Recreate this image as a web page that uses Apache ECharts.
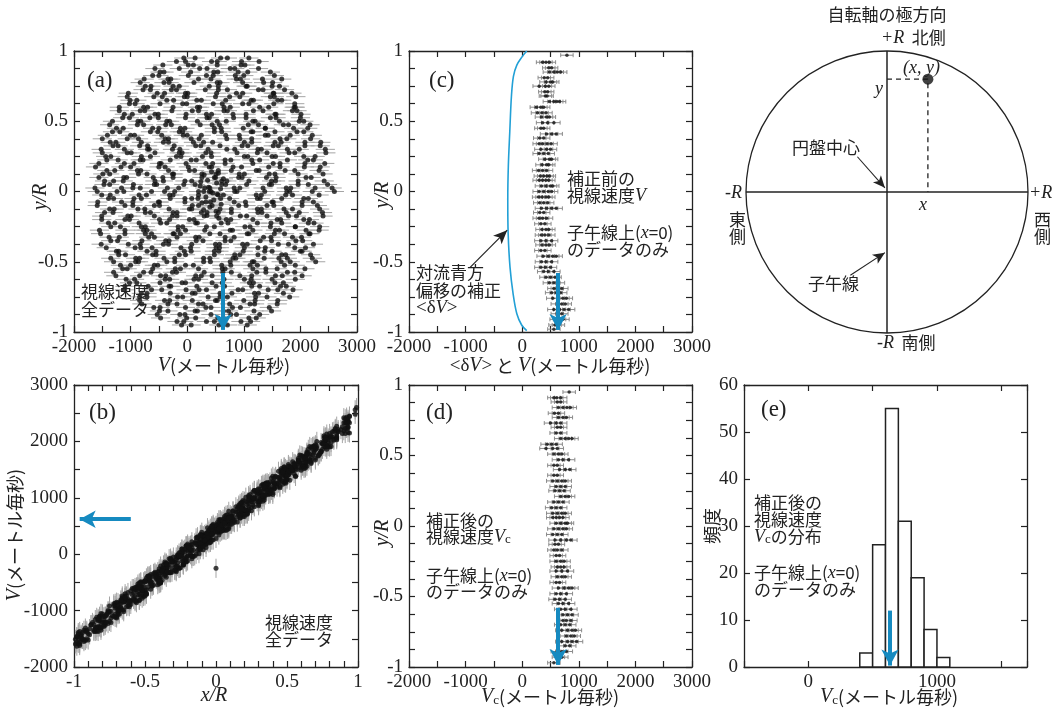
<!DOCTYPE html>
<html><head><meta charset="utf-8">
<script src="https://cdn.jsdelivr.net/npm/echarts@6/dist/echarts.min.js"></script>
<style>html,body{margin:0;padding:0;background:#fff}#c{width:1057px;height:710px}</style>
</head><body><div id="c"></div><script>
// ---------- DATA ----------
// full-disk line-of-sight velocities: rows of constant y/R, x/R positions and V (m/s)
const diskY = [0.95,0.90,0.85,0.80,0.75,0.70,0.65,0.60,0.55,0.50,0.45,0.40,0.35,0.30,0.25,0.20,0.15,0.10,0.05,0.00,
  -0.05,-0.10,-0.15,-0.20,-0.25,-0.30,-0.35,-0.40,-0.45,-0.50,-0.55,-0.60,-0.65,-0.70,-0.75,-0.80,-0.85,-0.90,-0.95];
const diskX = [
 [-0.27,-0.12,0.03,0.18,0.29],
 [-0.40,-0.26,-0.11,0.04,0.19,0.33],
 [-0.49,-0.35,-0.20,-0.06,0.09,0.23,0.38,0.50],
 [-0.57,-0.43,-0.28,-0.14,0.01,0.16,0.30,0.45,0.58],
 [-0.64,-0.50,-0.35,-0.21,-0.06,0.08,0.23,0.37,0.52,0.64],
 [-0.69,-0.55,-0.40,-0.26,-0.12,0.03,0.17,0.31,0.46,0.60,0.70],
 [-0.74,-0.60,-0.46,-0.31,-0.17,-0.02,0.12,0.27,0.41,0.56,0.70],
 [-0.78,-0.64,-0.49,-0.35,-0.20,-0.06,0.09,0.23,0.38,0.52,0.67,0.79],
 [-0.82,-0.68,-0.53,-0.39,-0.24,-0.10,0.05,0.19,0.34,0.48,0.63,0.77],
 [-0.85,-0.71,-0.57,-0.42,-0.28,-0.13,0.01,0.16,0.30,0.45,0.59,0.74,0.85],
 [-0.88,-0.74,-0.59,-0.45,-0.30,-0.16,-0.02,0.13,0.27,0.42,0.56,0.71,0.85],
 [-0.90,-0.76,-0.61,-0.47,-0.32,-0.18,-0.03,0.11,0.26,0.40,0.55,0.69,0.84],
 [-0.92,-0.78,-0.63,-0.49,-0.34,-0.20,-0.05,0.09,0.24,0.38,0.53,0.67,0.82,0.93],
 [-0.93,-0.79,-0.64,-0.50,-0.35,-0.21,-0.06,0.08,0.23,0.37,0.52,0.66,0.81,0.94],
 [-0.95,-0.81,-0.66,-0.52,-0.37,-0.23,-0.08,0.06,0.21,0.35,0.50,0.64,0.79,0.93],
 [-0.96,-0.82,-0.67,-0.53,-0.38,-0.24,-0.09,0.05,0.20,0.34,0.49,0.63,0.78,0.92],
 [-0.97,-0.83,-0.68,-0.54,-0.39,-0.25,-0.10,0.04,0.19,0.33,0.48,0.62,0.77,0.91],
 [-0.98,-0.84,-0.69,-0.55,-0.40,-0.26,-0.11,0.03,0.18,0.32,0.47,0.61,0.76,0.90],
 [-0.98,-0.85,-0.70,-0.56,-0.41,-0.27,-0.12,0.02,0.17,0.31,0.46,0.60,0.75,0.89,0.98],
 [-0.99,-0.86,-0.71,-0.57,-0.42,-0.28,-0.13,0.01,0.16,0.30,0.45,0.59,0.74,0.88,0.99],
 [-0.97,-0.83,-0.69,-0.54,-0.40,-0.25,-0.11,0.04,0.18,0.33,0.47,0.62,0.76,0.91],
 [-0.96,-0.82,-0.67,-0.53,-0.39,-0.24,-0.10,0.05,0.19,0.34,0.48,0.63,0.77,0.92],
 [-0.95,-0.81,-0.66,-0.52,-0.37,-0.23,-0.08,0.06,0.21,0.35,0.50,0.64,0.79,0.93],
 [-0.94,-0.80,-0.65,-0.51,-0.36,-0.22,-0.07,0.07,0.22,0.36,0.51,0.65,0.80,0.93],
 [-0.93,-0.79,-0.64,-0.50,-0.35,-0.21,-0.06,0.08,0.23,0.37,0.52,0.66,0.81,0.93],
 [-0.92,-0.78,-0.63,-0.49,-0.34,-0.20,-0.05,0.09,0.24,0.38,0.53,0.67,0.82,0.94],
 [-0.91,-0.76,-0.62,-0.47,-0.33,-0.18,-0.04,0.11,0.25,0.40,0.54,0.69,0.83],
 [-0.89,-0.75,-0.60,-0.46,-0.31,-0.17,-0.02,0.12,0.27,0.41,0.56,0.70,0.85],
 [-0.87,-0.73,-0.58,-0.44,-0.29,-0.15,0.00,0.14,0.29,0.43,0.58,0.72,0.86],
 [-0.85,-0.71,-0.56,-0.42,-0.27,-0.13,0.02,0.16,0.31,0.45,0.60,0.74,0.85],
 [-0.82,-0.68,-0.53,-0.39,-0.24,-0.10,0.05,0.19,0.34,0.48,0.63,0.77],
 [-0.79,-0.65,-0.50,-0.36,-0.21,-0.07,0.08,0.22,0.37,0.51,0.66,0.79],
 [-0.75,-0.61,-0.46,-0.32,-0.17,-0.03,0.12,0.26,0.41,0.55,0.70],
 [-0.70,-0.56,-0.41,-0.27,-0.12,0.02,0.17,0.31,0.46,0.60,0.70],
 [-0.65,-0.51,-0.36,-0.22,-0.07,0.07,0.22,0.36,0.51,0.64],
 [-0.58,-0.44,-0.29,-0.15,0.00,0.14,0.29,0.43,0.57],
 [-0.50,-0.36,-0.21,-0.07,0.08,0.22,0.37,0.50],
 [-0.41,-0.27,-0.12,0.02,0.17,0.31,0.42],
 [-0.28,-0.13,0.01,0.16,0.29]
];
const diskV = [
 [-60,140,590,710,1090],
 [-430,20,110,530,950,1020],
 [-480,-410,60,470,540,900,1070,1470],
 [-760,-340,-290,200,420,870,940,1330,1670],
 [-740,-640,-250,-140,390,550,1040,1060,1500,1630],
 [-1040,-530,-400,-30,10,520,870,980,1520,1530,1850],
 [-1010,-890,-360,-240,170,250,680,1130,1170,1600,1670],
 [-1200,-770,-700,-250,180,220,650,760,1280,1440,1890,1910],
 [-1110,-970,-570,-510,-20,340,430,810,1040,1550,1570,2010],
 [-1320,-870,-820,-360,-310,180,530,690,1160,1200,1630,1980,2060],
 [-1250,-1130,-610,-500,-120,-40,480,600,990,1380,1380,1880,2130],
 [-1410,-1000,-930,-450,-70,0,250,680,920,1380,1430,1820,2210],
 [-1360,-1260,-810,-420,-330,110,290,450,1010,1140,1550,1660,2080,2360],
 [-1520,-1110,-700,-670,-260,-130,370,700,840,1250,1310,1770,1980,2440],
 [-1440,-1350,-810,-650,-190,-110,270,430,1010,1070,1500,1560,2060,2260],
 [-1560,-1110,-940,-490,-460,-20,330,450,670,1160,1520,1640,2080,2430],
 [-1420,-1280,-880,-820,-330,40,130,550,780,1220,1270,1730,1900,2330],
 [-1560,-1120,-1070,-600,-430,-250,260,500,910,970,1400,1570,2100,2190],
 [-1470,-1370,-950,-580,-540,-60,140,610,680,1050,1450,1490,1960,2140,2480],
 [-1590,-1240,-1120,-630,-400,-220,290,390,840,880,1370,1760,1810,2210,2600],
 [-1390,-1300,-940,-810,-300,-40,80,590,750,1240,1290,1670,2060,2140],
 [-1590,-1100,-960,-580,-490,90,200,440,910,1040,1410,1530,2030,2300],
 [-1460,-1310,-740,-650,-250,-180,350,550,780,1250,1320,1750,1980,2390],
 [-1510,-1100,-1020,-490,-310,40,120,690,770,1160,1590,1650,2060,2160],
 [-1350,-1180,-810,-740,-160,-80,340,480,1020,1110,1470,1910,1910,2340],
 [-1530,-1100,-740,-630,-230,-120,400,580,1060,1090,1540,1720,2170,2150],
 [-1350,-1230,-800,-380,-320,160,280,670,770,1290,1490,1920,2040],
 [-1430,-920,-820,-620,-110,60,510,570,1010,1250,1380,1900,2090],
 [-1210,-1090,-610,-550,-140,-30,480,840,930,1250,1670,1740,2180],
 [-1300,-910,-860,-360,-220,290,410,760,1150,1180,1660,1820,2270],
 [-1140,-1060,-610,-210,-120,200,620,670,1160,1390,1590,2080],
 [-1260,-840,-470,-380,150,250,440,930,1140,1560,1680,2030],
 [-1020,-890,-480,-90,-30,440,620,1100,1170,1550,1700],
 [-1110,-630,-450,-20,210,340,900,980,1430,1600,1870],
 [-840,-710,-170,-80,370,580,710,1210,1410,1810],
 [-800,-340,-180,200,280,750,1110,1190,1590],
 [-490,-340,140,180,640,730,1180,1490],
 [-470,-10,150,540,640,1090,1220],
 [-100,70,560,710,1060]
];
// interleaved scan rows
const diskY2 = [0.925,0.875,0.825,0.775,0.725,0.675,0.625,0.575,0.525,0.475,0.425,0.375,0.325,0.275,0.225,0.175,0.125,0.075,0.025,
  -0.025,-0.075,-0.125,-0.175,-0.225,-0.275,-0.325,-0.375,-0.425,-0.475,-0.525,-0.575,-0.625,-0.675,-0.725,-0.775,-0.825,-0.875,-0.925];
const diskX2 = [
 [-0.34,-0.20,-0.05,0.10,0.25,0.36],
 [-0.45,-0.31,-0.17,-0.02,0.12,0.27,0.41],
 [-0.53,-0.39,-0.24,-0.10,0.05,0.19,0.34,0.48],
 [-0.60,-0.46,-0.31,-0.17,-0.02,0.12,0.27,0.41,0.56],
 [-0.66,-0.52,-0.38,-0.23,-0.09,0.06,0.20,0.35,0.49,0.63],
 [-0.71,-0.57,-0.42,-0.28,-0.14,0.01,0.15,0.30,0.44,0.58,0.71],
 [-0.76,-0.62,-0.47,-0.33,-0.18,-0.04,0.11,0.25,0.40,0.54,0.69],
 [-0.80,-0.66,-0.51,-0.37,-0.22,-0.08,0.07,0.21,0.36,0.50,0.65,0.78],
 [-0.83,-0.69,-0.55,-0.40,-0.26,-0.11,0.03,0.18,0.32,0.47,0.61,0.76],
 [-0.86,-0.72,-0.58,-0.43,-0.29,-0.14,0.00,0.15,0.29,0.44,0.58,0.73,0.86],
 [-0.89,-0.75,-0.60,-0.46,-0.31,-0.17,-0.02,0.12,0.27,0.41,0.56,0.70,0.85],
 [-0.91,-0.77,-0.62,-0.48,-0.33,-0.19,-0.04,0.10,0.25,0.39,0.54,0.68,0.83],
 [-0.92,-0.78,-0.64,-0.49,-0.35,-0.20,-0.06,0.09,0.23,0.38,0.52,0.67,0.81,0.93],
 [-0.94,-0.80,-0.65,-0.51,-0.36,-0.22,-0.07,0.07,0.22,0.36,0.51,0.65,0.80,0.94],
 [-0.95,-0.81,-0.67,-0.52,-0.38,-0.23,-0.09,0.06,0.20,0.35,0.49,0.64,0.78,0.92],
 [-0.96,-0.82,-0.68,-0.53,-0.39,-0.24,-0.10,0.05,0.19,0.34,0.48,0.63,0.77,0.92],
 [-0.97,-0.83,-0.69,-0.54,-0.40,-0.25,-0.11,0.04,0.18,0.33,0.47,0.62,0.76,0.91],
 [-0.98,-0.84,-0.70,-0.55,-0.41,-0.26,-0.12,0.03,0.17,0.32,0.46,0.61,0.75,0.90],
 [-0.98,-0.85,-0.71,-0.56,-0.42,-0.27,-0.13,0.02,0.16,0.31,0.45,0.60,0.74,0.89,0.98],
 [-0.99,-0.84,-0.70,-0.55,-0.41,-0.26,-0.12,0.03,0.17,0.32,0.46,0.61,0.75,0.90],
 [-0.97,-0.83,-0.68,-0.54,-0.39,-0.25,-0.10,0.04,0.19,0.33,0.48,0.62,0.77,0.91],
 [-0.96,-0.82,-0.67,-0.53,-0.38,-0.24,-0.09,0.05,0.20,0.34,0.49,0.63,0.78,0.92],
 [-0.95,-0.81,-0.66,-0.52,-0.38,-0.23,-0.09,0.06,0.20,0.35,0.49,0.64,0.78,0.92],
 [-0.94,-0.79,-0.65,-0.50,-0.36,-0.21,-0.07,0.08,0.22,0.37,0.51,0.66,0.80,0.93],
 [-0.93,-0.78,-0.64,-0.49,-0.35,-0.20,-0.06,0.09,0.23,0.38,0.52,0.67,0.81,0.94],
 [-0.91,-0.77,-0.62,-0.48,-0.33,-0.19,-0.04,0.10,0.25,0.39,0.54,0.68,0.83],
 [-0.90,-0.76,-0.61,-0.47,-0.32,-0.18,-0.03,0.11,0.26,0.40,0.55,0.69,0.84],
 [-0.88,-0.74,-0.59,-0.45,-0.30,-0.16,-0.01,0.13,0.28,0.42,0.57,0.71,0.85],
 [-0.86,-0.72,-0.57,-0.43,-0.28,-0.14,0.01,0.15,0.30,0.44,0.59,0.73,0.86],
 [-0.83,-0.69,-0.55,-0.40,-0.26,-0.11,0.03,0.18,0.32,0.47,0.61,0.76],
 [-0.81,-0.66,-0.52,-0.37,-0.23,-0.08,0.06,0.21,0.35,0.50,0.64,0.78],
 [-0.77,-0.63,-0.48,-0.34,-0.19,-0.05,0.10,0.24,0.39,0.53,0.68],
 [-0.72,-0.58,-0.43,-0.29,-0.14,0.00,0.15,0.29,0.44,0.58,0.72],
 [-0.67,-0.53,-0.38,-0.24,-0.09,0.05,0.20,0.34,0.49,0.63],
 [-0.61,-0.47,-0.32,-0.18,-0.03,0.11,0.26,0.40,0.55],
 [-0.54,-0.40,-0.25,-0.11,0.04,0.18,0.33,0.47],
 [-0.46,-0.32,-0.17,-0.03,0.12,0.26,0.41],
 [-0.35,-0.21,-0.06,0.09,0.23,0.36]
];
const diskV2 = [
 [-190,-30,430,530,960,1270],
 [-570,-140,220,350,760,840,1260],
 [-610,-500,20,340,460,850,1000,1540],
 [-830,-410,-320,120,530,580,980,1350,1510],
 [-780,-650,-280,-190,320,550,710,1260,1340,1720],
 [-1060,-590,-440,-50,0,500,750,930,1470,1540,1920],
 [-1020,-920,-480,-80,-10,460,620,980,1090,1530,1900],
 [-1200,-830,-750,-270,90,200,650,710,1170,1340,1860,1940],
 [-1140,-1020,-660,-510,-30,350,390,820,1040,1470,1570,2000],
 [-1370,-880,-770,-380,-280,230,440,570,1080,1260,1700,1790,2170],
 [-1320,-1190,-650,-520,-140,-80,480,610,1130,1160,1550,1940,2060],
 [-1500,-1060,-860,-390,-330,70,210,700,930,1140,1640,1760,2180],
 [-1310,-1220,-840,-700,-230,150,240,580,970,1070,1520,1610,2080,2350],
 [-1500,-1060,-990,-570,-140,-90,330,420,880,1240,1410,1800,1900,2450],
 [-1420,-1220,-830,-780,-300,70,160,670,770,1140,1280,1770,2130,2230],
 [-1620,-1170,-1000,-500,-390,20,390,430,810,960,1440,1640,2070,2350],
 [-1490,-1370,-860,-710,-260,-240,260,510,920,1010,1450,1550,1960,2400],
 [-1460,-1300,-1130,-570,-420,-40,80,610,700,1090,1490,1560,1960,2420],
 [-1630,-1160,-960,-830,-350,-150,310,400,830,930,1340,1750,1830,2260,2560],
 [-1510,-1360,-850,-720,-310,-250,200,550,640,1220,1310,1740,1860,2330],
 [-1580,-1160,-960,-510,-490,-40,330,410,830,1030,1500,1520,2030,2230],
 [-1370,-1290,-870,-750,-320,40,80,580,780,1240,1310,1710,1860,2340],
 [-1510,-1050,-990,-580,-260,-180,300,520,940,1050,1410,1790,1930,2400],
 [-1390,-1280,-850,-470,-360,150,180,600,720,1240,1480,1670,2140,2240],
 [-1550,-1100,-770,-710,-160,-30,310,760,800,1160,1560,1630,2100,2330],
 [-1380,-1200,-680,-580,-180,150,210,670,830,1350,1480,1860,2020],
 [-1520,-1040,-830,-420,-330,80,500,570,980,1060,1610,1790,2230],
 [-1250,-1210,-710,-550,-50,70,480,560,990,1370,1500,2000,2030],
 [-1350,-910,-840,-410,-220,290,400,810,860,1360,1620,1770,2210],
 [-1180,-1000,-580,-520,-30,110,610,770,1110,1240,1720,1910],
 [-1300,-770,-640,-260,-190,300,630,780,1230,1390,1770,1900],
 [-1080,-930,-390,-310,120,200,650,1010,1130,1500,1910],
 [-1100,-690,-320,-290,170,510,660,1140,1280,1650,1750],
 [-810,-710,-300,90,140,580,790,1190,1260,1700],
 [-840,-400,-310,90,500,530,1000,1200,1600],
 [-590,-480,-30,330,420,800,940,1450],
 [-530,-130,-40,420,770,870,1280],
 [-180,-60,340,480,950,1120]
];
// extra observations near disk centre [x/R, y/R, V]
const centerPoints = [[-0.05,0.12,300],[0.02,0.10,480],[-0.08,0.07,240],[0.04,0.06,520],[-0.02,0.03,380],[0.07,0.02,590],
 [-0.10,0.00,200],[0.00,0.00,420],[0.05,-0.02,530],[-0.04,-0.04,330],[0.03,-0.06,470],[-0.07,-0.08,260],[0.08,-0.09,600],
 [-0.01,-0.11,400],[-0.06,-0.13,290],[0.04,-0.14,510],[-0.03,-0.17,350],[0.06,-0.19,560],[-0.09,0.04,230],[0.01,0.14,430],
 [0.09,0.09,640],[-0.11,-0.05,190],[0.02,-0.01,450],[-0.03,0.08,360],[0.06,0.13,550],[-0.08,-0.15,250],[0.00,-0.30,-250]];
// meridian (x=0) data, before correction: [y/R, V values]
const meridianRows = [
 [0.97,[790]],[0.92,[360,420,480]],[0.88,[470,520]],[0.85,[480,560,620,680]],[0.81,[390,450]],[0.78,[420,500,540]],
 [0.75,[300,410,470]],[0.71,[400,450]],[0.68,[410,440]],[0.64,[480,560,610,660]],[0.60,[250,330,380]],[0.56,[270,350,420]],
 [0.53,[340,430,480]],[0.49,[360,450,560]],[0.45,[330,380]],[0.41,[430,520,600]],[0.38,[310,380]],[0.34,[300,360,440,510]],
 [0.30,[330,430,500]],[0.27,[300,380,460]],[0.23,[400,480,520]],[0.19,[350,430,470]],[0.15,[290,360,430]],[0.11,[320,380,440,480]],
 [0.08,[300,360,420,470]],[0.04,[340,420,500,540]],[0.00,[300,380,460,520]],[-0.04,[290,350,420,470]],[-0.08,[310,380,450]],
 [-0.12,[340,430,520,600]],[-0.15,[310,380]],[-0.19,[300,360,430]],[-0.23,[330,400]],[-0.27,[350,420,470]],[-0.31,[340,400,470]],
 [-0.35,[330,420,520]],[-0.38,[350,420,480]],[-0.42,[330,400]],[-0.46,[370,460,540,600]],[-0.50,[340,420,520]],[-0.54,[330,410,500]],
 [-0.57,[380,460,560]],[-0.61,[420,500,580]],[-0.65,[480,560,640]],[-0.69,[560,620,700]],[-0.72,[520,600,680]],[-0.76,[540,640,720,780]],
 [-0.80,[620,700,760]],[-0.84,[560,660,740,820]],[-0.87,[620,700]],[-0.91,[600,660,720]],[-0.95,[580,640]],[-0.98,[560]]
];
// meridian data after correction: [y/R, Vc values]
const correctedRows = [
 [0.95,[830]],[0.91,[560,610,680]],[0.88,[620,680]],[0.84,[640,720,790,850]],[0.80,[570,640]],[0.77,[640,720,780]],
 [0.73,[500,600,680]],[0.70,[620,680]],[0.66,[600,680]],[0.62,[680,760,820,880]],[0.58,[440,520,600]],[0.55,[420,540,620]],
 [0.51,[560,640,700]],[0.47,[640,720,820]],[0.43,[560,620]],[0.40,[660,760,840]],[0.36,[560,620]],[0.32,[540,620,700,760]],
 [0.28,[600,680,760]],[0.25,[580,660,740]],[0.21,[680,760,820]],[0.17,[560,640,720]],[0.13,[520,600,680]],[0.09,[540,620,700,760]],
 [0.06,[540,600,660,720]],[0.02,[600,680,760,800]],[-0.02,[560,640,720,780]],[-0.06,[540,620,700]],[-0.10,[580,680,780,860]],
 [-0.13,[580,640]],[-0.17,[560,620,700]],[-0.21,[600,660]],[-0.25,[600,680,740]],[-0.29,[620,680,740]],[-0.32,[600,700,800]],
 [-0.36,[620,700,760]],[-0.40,[600,660]],[-0.44,[640,740,820,880]],[-0.48,[600,680,780]],[-0.52,[580,660,760]],[-0.55,[640,720,820]],
 [-0.59,[680,760,860]],[-0.63,[720,800,880]],[-0.67,[720,780,860]],[-0.70,[680,760,840]],[-0.74,[700,800,880,940]],
 [-0.78,[780,860,920]],[-0.82,[700,800,880,960]],[-0.85,[760,840]],[-0.89,[620,700,780]],[-0.93,[640,700]],[-0.97,[560]]
];
// convective blueshift correction <dV> (m/s) vs y/R
const convShift = [[80,1.0],[0,0.96],[-95,0.9],[-155,0.82],[-190,0.68],[-220,0.42],[-245,0.18],[-255,-0.06],
 [-248,-0.3],[-215,-0.54],[-160,-0.73],[-95,-0.87],[-10,-0.95],[80,-0.99]];
// histogram of corrected Vc
const histBinStart = [400,500,600,700,800,900,1000];
const histCounts = [3,26,55,31,19,8,2];
const histBinWidth = 100;
// mean velocity marked by blue arrows (m/s)
const meanV = 635;
const errHalf = 170;      // typical error bar half-width (m/s)
const errHalfMer = 110;
// schematic disk
const diagramPoint = [0.29, 0.80];

// ---------- BUILD ----------
const SERIF = "'Liberation Serif','DejaVu Serif',serif";
const JP = "'Noto Sans CJK JP','Noto Sans',sans-serif";
const INK = '#222';
const BLUE = '#168ac0';

const diskAll = [];
diskY.forEach((y,i)=>diskX[i].forEach((x,j)=>diskAll.push([x,y,diskV[i][j]])));
diskY2.forEach((y,i)=>diskX2[i].forEach((x,j)=>diskAll.push([x,y,diskV2[i][j]])));
centerPoints.forEach(p=>diskAll.push(p));
const merPts = []; meridianRows.forEach(([y,vs])=>vs.forEach(v=>merPts.push([v,y])));
const corPts = []; correctedRows.forEach(([y,vs])=>vs.forEach(v=>corPts.push([v,y])));
const aPts = diskAll.map(p=>[p[2],p[1]]);
const bPts = diskAll.map(p=>[p[0],p[2]]);

const grids=[], xAxes=[], yAxes=[];
function fmtStep(step){ return v => (Math.abs(v/step - Math.round(v/step))<1e-6) ? String(Math.round(v*1000)/1000) : ''; }
function axis(g, r, pos, labels, hide){
  return {gridIndex:g, type:'value', min:r[0], max:r[1], interval:r[2], position:pos, show:!hide,
    axisLine:{show:true,onZero:false,lineStyle:{color:INK,width:1.3}},
    axisTick:{show:true,inside:true,length:6,lineStyle:{color:INK,width:1.2}},
    splitLine:{show:false}, minorTick:{show:false},
    axisLabel:{show:labels, formatter:r[3], fontFamily:SERIF, fontSize:19, color:INK, margin:6, showMinLabel:true, showMaxLabel:true}};
}
function addGrid(box, xr, yr, hide){
  const g = grids.length;
  grids.push({left:box[0], top:box[1], width:box[2], height:box[3], containLabel:false, outerBoundsMode:'none'});
  const xi = xAxes.length; xAxes.push(axis(g,xr,'bottom',true,hide), axis(g,xr,'top',false,hide));
  const yi = yAxes.length; yAxes.push(axis(g,yr,'left',true,hide), axis(g,yr,'right',false,hide));
  return {xi, yi};
}
const gA = addGrid([74,51,283,281],[-2000,3000,500,fmtStep(1000)],[-1,1,0.125,fmtStep(0.5)]);
const gC = addGrid([409,51,283,281],[-2000,3000,500,fmtStep(1000)],[-1,1,0.125,fmtStep(0.5)]);
const gB = addGrid([74,385,284,282],[-1,1,0.1,fmtStep(0.5)],[-2000,3000,500,fmtStep(1000)]);
const gD = addGrid([409,385,283,282],[-2000,3000,500,fmtStep(1000)],[-1,1,0.125,fmtStep(0.5)]);
const gE = addGrid([744,385,283,282],[-500,1700,500,v=>(v===0||v===1000)?String(v):''],[0,60,10,v=>String(v)]);
const gS = addGrid([746,51,282,282],[-1,1,0.5,null],[-1,1,0.5,null],true);

function errRender(horizontal, half, color, cap){
  return function(params, api){
    const a = api.value(0), b = api.value(1);
    const p = horizontal ? api.coord([a-half,b]) : api.coord([a,b-half]);
    const q = horizontal ? api.coord([a+half,b]) : api.coord([a,b+half]);
    const st = {stroke:color, lineWidth:1};
    const ch = [{type:'line', shape:{x1:p[0],y1:p[1],x2:q[0],y2:q[1]}, style:st}];
    if (cap){
      if (horizontal){
        ch.push({type:'line',shape:{x1:p[0],y1:p[1]-cap,x2:p[0],y2:p[1]+cap},style:st});
        ch.push({type:'line',shape:{x1:q[0],y1:q[1]-cap,x2:q[0],y2:q[1]+cap},style:st});
      } else {
        ch.push({type:'line',shape:{x1:p[0]-cap,y1:p[1],x2:p[0]+cap,y2:p[1]},style:st});
        ch.push({type:'line',shape:{x1:q[0]-cap,y1:q[1],x2:q[0]+cap,y2:q[1]},style:st});
      }
    }
    return {type:'group', children:ch};
  };
}
function blueArrow(from, to){
  return {silent:true, symbol:['none','arrow'], symbolSize:[13,16], animation:false,
    lineStyle:{color:BLUE,width:4,type:'solid'}, label:{show:false},
    data:[[{coord:from},{coord:to}]]};
}
function blackArrow(from, to){
  return {silent:true, symbol:['none','arrow'], symbolSize:[9,14], animation:false,
    lineStyle:{color:INK,width:1.2,type:'solid'}, label:{show:false},
    data:[[{coord:from},{coord:to}]]};
}
const ax = g => ({xAxisIndex:g.xi, yAxisIndex:g.yi});

const series = [
  // (a)
  Object.assign({type:'custom', data:aPts, renderItem:errRender(true,errHalf,'#a5a5a5',0), clip:true, z:1, encode:{x:0,y:1}}, ax(gA)),
  Object.assign({type:'scatter', data:aPts, symbolSize:5, itemStyle:{color:'#111'}, z:2, large:false,
    markLine:blueArrow([meanV,-0.58],[meanV,-0.985])}, ax(gA)),
  // (b)
  Object.assign({type:'custom', data:bPts, renderItem:errRender(false,errHalf,'#a5a5a5',0), clip:true, z:1, encode:{x:0,y:1}}, ax(gB)),
  Object.assign({type:'scatter', data:bPts, symbolSize:5, itemStyle:{color:'#111'}, z:2, large:false,
    markLine:blueArrow([-0.6,meanV-15],[-0.96,meanV-15])}, ax(gB)),
  // (c)
  Object.assign({type:'custom', data:merPts, renderItem:errRender(true,errHalfMer,'#8a8a8a',2), clip:true, z:1, encode:{x:0,y:1}}, ax(gC)),
  Object.assign({type:'scatter', data:merPts, symbolSize:3.5, itemStyle:{color:'#111'}, z:2,
    markLine:blueArrow([meanV,-0.58],[meanV,-0.985])}, ax(gC)),
  Object.assign({type:'line', data:convShift, smooth:0.35, showSymbol:false, lineStyle:{color:'#22a0d6',width:1.6}, z:3,
    markLine:blackArrow([-920,-0.54],[-265,-0.275])}, ax(gC)),
  // (d)
  Object.assign({type:'custom', data:corPts, renderItem:errRender(true,errHalfMer,'#8a8a8a',2), clip:true, z:1, encode:{x:0,y:1}}, ax(gD)),
  Object.assign({type:'scatter', data:corPts, symbolSize:3.5, itemStyle:{color:'#111'}, z:2,
    markLine:blueArrow([meanV,-0.58],[meanV,-0.985])}, ax(gD)),
  // (e)
  Object.assign({type:'custom', data:histBinStart.map((s,i)=>[s,histCounts[i]]), encode:{x:0,y:1}, z:2,
    renderItem:function(params, api){
      const s = api.value(0), c = api.value(1);
      const p = api.coord([s, c]), q = api.coord([s+histBinWidth, 0]);
      return {type:'rect', shape:{x:p[0],y:p[1],width:q[0]-p[0],height:q[1]-p[1]}, style:{fill:'#fff',stroke:INK,lineWidth:1.5}};
    }}, ax(gE)),
  Object.assign({type:'line', data:[[meanV,12],[meanV,12]], showSymbol:false, lineStyle:{opacity:0}, z:3,
    markLine:blueArrow([meanV,12],[meanV,0.3])}, ax(gE)),
  // schematic disk
  Object.assign({type:'custom', data:[[0,0,1]], encode:{x:0,y:1}, z:1,
    renderItem:function(params, api){
      const c = api.coord([api.value(0), api.value(1)]), e = api.coord([api.value(2), 0]);
      return {type:'circle', shape:{cx:c[0],cy:c[1],r:e[0]-c[0]}, style:{fill:'none',stroke:INK,lineWidth:1.3}};
    }}, ax(gS)),
  Object.assign({type:'line', data:[[-1,0],[1,0]], showSymbol:false, lineStyle:{color:INK,width:1.5}, z:2}, ax(gS)),
  Object.assign({type:'line', data:[[0,-1],[0,1]], showSymbol:false, lineStyle:{color:INK,width:1.5}, z:2,
    markLine:{silent:true, symbol:['none','arrow'], symbolSize:[8,12], animation:false, label:{show:false},
      lineStyle:{color:INK,width:1.1,type:'solid'},
      data:[[{coord:[-0.21,0.25]},{coord:[-0.015,0.03]}],[{coord:[-0.26,-0.59]},{coord:[-0.015,-0.43]}]]}}, ax(gS)),
  Object.assign({type:'line', data:[[0,diagramPoint[1]],diagramPoint,[diagramPoint[0],0]], showSymbol:false,
    lineStyle:{color:INK,width:1.3,type:[5,4]}, z:2}, ax(gS)),
  Object.assign({type:'scatter', data:[diagramPoint], symbolSize:11, itemStyle:{color:'#111'}, z:3}, ax(gS))
];

// ---------- TEXT ----------
const RICH = {
  i:{fontFamily:SERIF, fontStyle:'italic', fontSize:20, fill:INK},
  r:{fontFamily:SERIF, fontSize:19, fill:INK},
  s:{fontFamily:SERIF, fontSize:13, fill:INK, verticalAlign:'bottom'},
  j:{fontFamily:JP, fontSize:18, fill:INK},
  k:{fontFamily:JP, fontSize:17, fill:INK},
  ii:{fontFamily:SERIF, fontStyle:'italic', fontSize:18, fill:INK}
};
function T(x, y, text, o){
  o = o || {};
  return {type:'text', x:x, y:y, rotation:o.rot||0, silent:true, z:100,
    style:{text:text, rich:RICH, fill:INK, fontFamily:o.ff||JP, fontSize:o.fs||17, fontStyle:o.it?'italic':'normal',
      align:o.al||'left', verticalAlign:o.va||'top'}};
}
const R90 = Math.PI/2;
const texts = [
  // panel labels
  T(87,69,'(a)',{ff:SERIF,fs:23}), T(429,69,'(c)',{ff:SERIF,fs:23}), T(89,401,'(b)',{ff:SERIF,fs:23}),
  T(426,401,'(d)',{ff:SERIF,fs:23}), T(761,398,'(e)',{ff:SERIF,fs:23}),
  // axis titles
  T(224,366,'{i|V}{j|(メートル毎秒)}',{al:'center',va:'middle'}),
  T(550,366,'{r|<δ}{i|V}{r|>} {j|と} {i|V}{j|(メートル毎秒)}',{al:'center',va:'middle'}),
  T(214,696,'x/R',{ff:SERIF,fs:20,it:true,al:'center',va:'middle'}),
  T(550,697,'{i|V}{s|c}{j|(メートル毎秒)}',{al:'center',va:'middle'}),
  T(889,697,'{i|V}{s|c}{j|(メートル毎秒)}',{al:'center',va:'middle'}),
  T(41,197,'y/R',{ff:SERIF,fs:20,it:true,al:'center',va:'middle',rot:R90}),
  T(383,195,'y/R',{ff:SERIF,fs:20,it:true,al:'center',va:'middle',rot:R90}),
  T(383,533,'y/R',{ff:SERIF,fs:20,it:true,al:'center',va:'middle',rot:R90}),
  T(15,535,'{i|V}{j|(メートル毎秒)}',{al:'center',va:'middle',rot:R90}),
  T(712,526,'頻度',{fs:18,al:'center',va:'middle',rot:R90}),
  // (a)
  T(81,283,'視線速度'), T(81,301,'全データ'),
  // (b)
  T(265,614,'視線速度'), T(265,631,'全データ'),
  // (c)
  T(567,170,'補正前の'), T(567,187,'{k|視線速度}{ii|V}'), T(567,224,'{k|子午線上(}{ii|x}{k|=0)}'), T(567,241,'のデータのみ'),
  T(416,264,'対流青方'), T(416,282,'偏移の補正'), T(416,299,'{r|<δ}{ii|V}{r|>}'),
  // (d)
  T(426,512,'補正後の'), T(426,528,'{k|視線速度}{ii|V}{s|c}'), T(426,567,'{k|子午線上(}{ii|x}{k|=0)}'), T(426,583,'のデータのみ'),
  // (e)
  T(754,494,'補正後の'), T(754,511,'視線速度'), T(754,528,'{ii|V}{s|c}{k|の分布}'), T(754,564,'{k|子午線上(}{ii|x}{k|=0)}'), T(754,581,'のデータのみ'),
  // schematic
  T(887,6,'自転軸の極方向',{al:'center'}),
  T(881,29,'{ii|+R}{k|  北側}'), T(877,334,'{ii|-R}{k|  南側}'),
  T(725,184,'{ii|-R}'), T(729,211,'東'), T(729,228,'側'),
  T(1029,184,'{ii|+R}'), T(1034,211,'西'), T(1034,228,'側'),
  T(792,139,'円盤中心'), T(808,275,'子午線'),
  T(875,80,'y',{ff:SERIF,fs:18,it:true}), T(919,196,'x',{ff:SERIF,fs:18,it:true}),
  T(903,59,'(x, y)',{ff:SERIF,fs:18,it:true})
];

const chart = echarts.init(document.getElementById('c'), null, {renderer:'canvas'});
chart.setOption({
  animation:false, backgroundColor:'#fff',
  grid:grids, xAxis:xAxes, yAxis:yAxes, series:series, graphic:texts
});
</script></body></html>
